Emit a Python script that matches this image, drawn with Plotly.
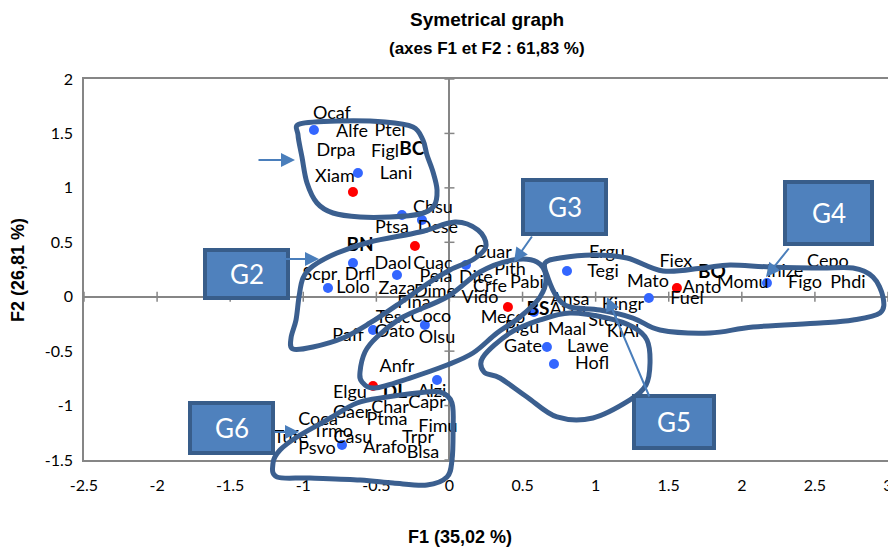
import plotly.graph_objects as go

# ---------------- data (F1 / F2 coordinates) ----------------
labels = ["Ocaf", "Alfe", "Ptel", "Drpa", "Figl", "Xiam", "Lani", "Chsu", "Ptsa", "Dese",
          "Daol", "Cuac", "Cuar", "Pith", "Scpr", "Drfl", "Pela", "Dite", "Crfe", "Pabi",
          "Lolo", "Zaza", "Dime", "Vido", "Fina", "Tesc", "Coco", "Oato", "Olsu", "Paff",
          "Meco", "Pigu", "Gate", "Ergu", "Tegi", "Mato", "Fiex", "Ansa", "Atzu", "Kingr",
          "Stel", "KiAl", "Maal", "Lawe", "Hofl", "Fuel", "Anto", "Momu", "Inize", "Cepo",
          "Figo", "Phdi", "Anfr", "Elgu", "Alzi", "Char", "Capr", "Gaer", "Ptma", "Coca",
          "Fimu", "Trmo", "Casu", "Trpr", "Tufe", "Psvo", "Arafo", "Blsa"]
label_f1 = [-0.804, -0.667, -0.407, -0.776, -0.441, -0.783, -0.366, -0.113, -0.393, -0.079,
            -0.386, -0.113, 0.298, 0.414, -0.886, -0.612, -0.092, 0.181, 0.277, 0.530,
            -0.660, -0.359, -0.099, 0.209, -0.243, -0.386, -0.127, -0.373, -0.085, -0.694,
            0.366, 0.496, 0.503, 1.077, 1.050, 1.358, 1.549, 0.824, 0.811, 1.187,
            1.050, 1.187, 0.804, 0.947, 0.975, 1.625, 1.727, 2.007, 2.295, 2.589,
            2.432, 2.726, -0.359, -0.681, -0.120, -0.407, -0.154, -0.667, -0.427, -0.899,
            -0.079, -0.797, -0.660, -0.215, -1.084, -0.906, -0.441, -0.181]
label_f2 = [1.678, 1.513, 1.522, 1.330, 1.321, 1.092, 1.120, 0.815, 0.631, 0.631,
            0.300, 0.300, 0.401, 0.245, 0.199, 0.199, 0.172, 0.163, 0.089, 0.126,
            0.071, 0.062, 0.043, -0.012, -0.058, -0.196, -0.187, -0.325, -0.380, -0.370,
            -0.196, -0.288, -0.462, 0.401, 0.227, 0.135, 0.310, -0.039, -0.131, -0.085,
            -0.232, -0.333, -0.306, -0.462, -0.627, -0.030, 0.080, 0.126, 0.218, 0.310,
            0.117, 0.117, -0.646, -0.885, -0.876, -1.023, -0.977, -1.069, -1.133, -1.133,
            -1.197, -1.243, -1.298, -1.307, -1.298, -1.408, -1.390, -1.436]

group_labels = ["BC", "BN", "BS", "BO", "DL"]
group_label_f1 = [-0.257, -0.612, 0.605, 1.796, -0.373]
group_label_f2 = [1.348, 0.466, -0.122, 0.218, -0.885]
centroid_f1 = [-0.660, -0.236, 0.400, 1.556, -0.523]
centroid_f2 = [0.962, 0.466, -0.094, 0.080, -0.820]

point_f1 = [-0.927, -0.626, -0.325, -0.188, -0.660, -0.359, 0.113, -0.831, -0.523,
            -0.168, 0.578, 0.804, 1.364, 2.172, 0.667, 0.715, -0.085, -0.735]
point_f2 = [1.532, 1.137, 0.751, 0.705, 0.310, 0.199, 0.292, 0.080, -0.306,
            -0.260, -0.141, 0.236, -0.012, 0.126, -0.462, -0.618, -0.765, -1.362]

x_ticks = [-2.5, -2, -1.5, -1, -0.5, 0, 0.5, 1, 1.5, 2, 2.5, 3]
x_tick_text = ["-2.5", "-2", "-1.5", "-1", "-0.5", "0", "0.5", "1", "1.5", "2", "2.5", "3"]
y_ticks = [-1.5, -1, -0.5, 0, 0.5, 1, 1.5, 2]
y_tick_text = ["-1.5", "-1", "-0.5", "0", "0.5", "1", "1.5", "2"]

group_names = ["G2", "G3", "G4", "G5", "G6"]

# ---------------- layout geometry / decoration ----------------
PAGE_W, PAGE_H = 896, 548
BODY = 8                      # default page margin around the plot div
W, H = PAGE_W - BODY, PAGE_H - BODY
PL, PT, PW, PH = 84, 79, 804, 381          # plot area in page pixels
XR = (-2.5, 3.0)
YR = (-1.5, 2.0)
AXIS_GREY = "#868686"
OUTLINE = "#3B5F8F"
ARROW = "#4A7EBB"


def paper(px, py):
    return (px - PL) / PW, (PT + PH - py) / PH


def data(px, py):
    return (XR[0] + (px - PL) / PW * (XR[1] - XR[0]),
            YR[1] - (py - PT) / PH * (YR[1] - YR[0]))


def smooth_closed(pts):
    P = [paper(*p) for p in pts]
    n = len(P)
    d = f"M {P[0][0]:.4f},{P[0][1]:.4f}"
    for i in range(n):
        p0, p1, p2, p3 = P[i - 1], P[i], P[(i + 1) % n], P[(i + 2) % n]
        c1 = (p1[0] + (p2[0] - p0[0]) / 6, p1[1] + (p2[1] - p0[1]) / 6)
        c2 = (p2[0] - (p3[0] - p1[0]) / 6, p2[1] - (p3[1] - p1[1]) / 6)
        d += f" C {c1[0]:.4f},{c1[1]:.4f} {c2[0]:.4f},{c2[1]:.4f} {p2[0]:.4f},{p2[1]:.4f}"
    return d + " Z"


outlines = [
    [(300, 124), (340, 121), (385, 122), (413, 127), (423, 140), (427, 155), (433, 172),
     (437, 190), (434, 206), (420, 214), (390, 217), (360, 217), (333, 213), (317, 203),
     (307, 183), (302, 157), (298, 135)],
    [(313, 266), (337, 253), (370, 242), (420, 232), (455, 222), (478, 230), (486, 246),
     (474, 259), (450, 270), (427, 284), (400, 303), (370, 323), (343, 338), (313, 347),
     (293, 349), (291, 338), (296, 320), (299, 297), (303, 278)],
    [(360, 372), (365, 352), (377, 337), (403, 317), (447, 297), (480, 272), (513, 260),
     (537, 262), (546, 277), (540, 297), (520, 317), (497, 333), (473, 353), (447, 365),
     (410, 378), (375, 388), (362, 382)],
    [(545, 263), (560, 258), (593, 255), (627, 258), (663, 271), (703, 268), (730, 265),
     (770, 267), (820, 268), (853, 268), (873, 277), (883, 297), (880, 313), (853, 320),
     (820, 323), (753, 327), (710, 333), (660, 330), (633, 318), (600, 310), (570, 307),
     (557, 297), (548, 278)],
    [(483, 357), (510, 333), (540, 320), (570, 313), (607, 318), (633, 327), (647, 340),
     (650, 363), (646, 385), (630, 400), (593, 418), (557, 417), (527, 397), (500, 378),
     (484, 372)],
    [(280, 450), (297, 437), (327, 420), (357, 403), (387, 397), (417, 393), (440, 392),
     (452, 403), (453, 433), (452, 460), (447, 477), (427, 485), (393, 483), (360, 480),
     (310, 478), (277, 477), (273, 463)],
]
boxes = [(205, 250, 288, 298), (523, 180, 606, 234), (785, 182, 872, 244),
         (634, 396, 714, 448), (190, 403, 273, 453)]
arrows = [((257, 160), (295, 160)), ((283, 259), (319, 259)), ((533, 235), (514, 262)),
          ((790, 247), (766, 277)), ((650, 398), (607, 297)), ((273, 432), (299, 432))]

fig = go.Figure()

fig.add_trace(go.Scatter(x=point_f1, y=point_f2, mode="markers",
                         marker=dict(color="#3366FF", size=10), hoverinfo="skip",
                         cliponaxis=False))
fig.add_trace(go.Scatter(x=centroid_f1, y=centroid_f2, mode="markers",
                         marker=dict(color="#FF0000", size=10), hoverinfo="skip",
                         cliponaxis=False))
fig.add_trace(go.Scatter(x=label_f1, y=label_f2, mode="text", text=labels,
                         textposition="middle center",
                         textfont=dict(family="Lato", size=18, color="black"),
                         hoverinfo="skip", cliponaxis=False))
fig.add_trace(go.Scatter(x=group_label_f1, y=group_label_f2, mode="text",
                         text=[f"<b>{g}</b>" for g in group_labels],
                         textposition="middle center",
                         textfont=dict(family="Lato", size=19, color="black"),
                         hoverinfo="skip", cliponaxis=False))

shapes = []
sx = PW / (XR[1] - XR[0])
sy = PH / (YR[1] - YR[0])
for xv in x_ticks:
    shapes.append(dict(type="line", xref="x", yref="y", x0=xv, x1=xv, y0=-5 / sy, y1=5 / sy,
                       line=dict(color=AXIS_GREY, width=1.5), layer="below"))
for yv in y_ticks:
    shapes.append(dict(type="line", xref="x", yref="y", y0=yv, y1=yv, x0=-5 / sx, x1=5 / sx,
                       line=dict(color=AXIS_GREY, width=1.5), layer="below"))
for pts in outlines:
    shapes.append(dict(type="path", xref="paper", yref="paper", path=smooth_closed(pts),
                       line=dict(color=OUTLINE, width=5), fillcolor="rgba(0,0,0,0)",
                       layer="above"))
annotations = []
for (x0, y0, x1, y1), name in zip(boxes, group_names):
    a = paper(x0, y1)
    b = paper(x1, y0)
    shapes.append(dict(type="rect", xref="paper", yref="paper", x0=a[0], y0=a[1], x1=b[0],
                       y1=b[1], fillcolor="#4F81BD", line=dict(color="#385D8A", width=4),
                       layer="above"))
    c = paper((x0 + x1) / 2, (y0 + y1) / 2)
    annotations.append(dict(xref="paper", yref="paper", x=c[0], y=c[1], text=name,
                            xanchor="center", yanchor="middle", showarrow=False,
                            font=dict(family="Lato", size=26, color="white")))
for (tail, head) in arrows:
    hx, hy = data(*head)
    tx, ty = data(*tail)
    annotations.append(dict(xref="x", yref="y", axref="x", ayref="y", x=hx, y=hy, ax=tx,
                            ay=ty, text="", showarrow=True, arrowhead=2, arrowsize=1.4,
                            arrowwidth=2, arrowcolor=ARROW, standoff=0))


def title_note(px, py, text, size=17, angle=0):
    x, y = paper(px, py)
    return dict(xref="paper", yref="paper", x=x, y=y, text=text, textangle=angle,
                xanchor="center", yanchor="middle", showarrow=False,
                font=dict(family="Liberation Sans", size=size, color="black"))


annotations.append(title_note(487, 20, "<b>Symetrical graph</b>", 19))
annotations.append(title_note(487, 48, "<b>(axes F1 et F2 : 61,83 %)</b>", 17))
annotations.append(title_note(460, 537, "<b>F1 (35,02 %)</b>", 18))
annotations.append(title_note(18, 270, "<b>F2 (26,81 %)</b>", 18, -90))

fig.update_layout(
    width=W, height=H, autosize=False,
    margin=dict(l=PL - BODY, r=W - (PL - BODY) - PW, t=PT - BODY, b=H - (PT - BODY) - PH,
                autoexpand=False),
    paper_bgcolor="white", plot_bgcolor="white",
    showlegend=False, shapes=shapes, annotations=annotations,
    xaxis=dict(range=list(XR), tickvals=x_ticks, ticktext=x_tick_text, showgrid=False,
               zeroline=True, zerolinecolor=AXIS_GREY, zerolinewidth=1.5,
               showline=True, mirror=True, linecolor=AXIS_GREY, linewidth=1.5,
               ticks="outside", ticklen=10, tickcolor="rgba(0,0,0,0)", automargin=False,
               tickfont=dict(family="Lato", size=16, color="black"), fixedrange=True),
    yaxis=dict(range=list(YR), tickvals=y_ticks, ticktext=y_tick_text, showgrid=False,
               zeroline=True, zerolinecolor=AXIS_GREY, zerolinewidth=1.5,
               showline=True, mirror=True, linecolor=AXIS_GREY, linewidth=1.5,
               ticks="outside", ticklen=6, tickcolor="rgba(0,0,0,0)", automargin=False,
               tickfont=dict(family="Lato", size=16, color="black"), fixedrange=True),
)

fig.write_html("out.html")
